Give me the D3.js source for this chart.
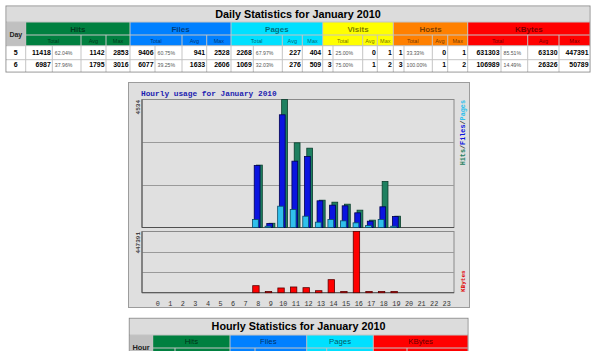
<!DOCTYPE html>
<html>
<head>
<meta charset="utf-8">
<script src="https://cdn.jsdelivr.net/npm/d3@7"></script>
<style>
  body { margin: 0; background: #fff; }
  svg { display: block; }
</style>
</head>
<body>
<svg id="page"></svg>
<script>
// ---- data ----
const monthLabel = "January 2010";

const dailyDays = ["5", "6"];
const statGroups = ["Hits", "Files", "Pages", "Visits", "Hosts", "KBytes"];
const subHeads = ["Total", "Avg", "Max"];
const dailyHits   = [[11418, "62.04%", 1142, 2853], [6987, "37.96%", 1795, 3016]];
const dailyFiles  = [[9406, "60.75%", 941, 2528], [6077, "39.25%", 1633, 2606]];
const dailyPages  = [[2268, "67.97%", 227, 404], [1069, "32.03%", 276, 509]];
const dailyVisits = [[1, "25.00%", 0, 1], [3, "75.00%", 1, 2]];
const dailyHosts  = [[1, "33.33%", 0, 1], [3, "100.00%", 1, 2]];
const dailyKBytes = [[631303, "85.51%", 63130, 447391], [106989, "14.49%", 26326, 50789]];

const hours = [0, 1, 2, 3, 4, 5, 6, 7, 8, 9, 10, 11, 12, 13, 14, 15, 16, 17, 18, 19, 20, 21, 22, 23];
const hitsByHour   = [0, 0, 0, 0, 0, 0, 0, 0, 2210, 150, 4534, 3000, 2810, 967, 897, 826, 614, 260, 1630, 400, 0, 0, 0, 0];
const filesByHour  = [0, 0, 0, 0, 0, 0, 0, 0, 2196, 142, 3992, 2350, 2515, 945, 791, 768, 520, 224, 733, 390, 0, 0, 0, 0];
const pagesByHour  = [0, 0, 0, 0, 0, 0, 0, 0, 283, 46, 755, 638, 400, 189, 283, 236, 165, 71, 283, 46, 0, 0, 0, 0];
const kbytesByHour = [0, 0, 0, 0, 0, 0, 0, 0, 51300, 5000, 34500, 41800, 36700, 14700, 95300, 8000, 447391, 3000, 5000, 3000, 0, 0, 0, 0];
const maxHits = 4534;
const maxKBytes = 447391;

const hourGroups = ["Hits", "Files", "Pages", "KBytes"];

// ---- layout ----
const W = 600, H = 351;
const groupColors = ["#008040", "#0080ff", "#00e0ff", "#ffff00", "#ff8000", "#ff0000"];
const sans = "'Liberation Sans', Arial, sans-serif";
const mono = "'Liberation Mono', 'DejaVu Sans Mono', monospace";

const svg = d3.select("#page")
  .attr("width", W)
  .attr("height", H)
  .attr("viewBox", `0 0 ${W} ${H}`);

function cells(g, list) {
  g.selectAll(null)
    .data(list)
    .join("rect")
      .attr("x", d => d.x0 + 0.5)
      .attr("y", d => d.y0 + 0.5)
      .attr("width", d => d.x1 - d.x0 - 1)
      .attr("height", d => d.y1 - d.y0 - 1)
      .attr("fill", d => d.fill);
}

function texts(g, list) {
  g.selectAll(null)
    .data(list)
    .join("text")
      .attr("x", d => d.x)
      .attr("y", d => d.y)
      .attr("text-anchor", d => d.anchor || "middle")
      .attr("font-family", sans)
      .attr("font-size", d => d.size)
      .attr("font-weight", d => d.bold ? "bold" : "normal")
      .attr("fill", d => d.color || "#000")
      .attr("fill-opacity", d => d.op || 1)
      .text(d => d.t);
}

// ---- daily table ----
const t1 = svg.append("g");
const colEdges = [
  [25.7, 52.3, 81, 106, 130],
  [130, 155, 182, 206.7, 231],
  [231, 253.3, 282.3, 302.3, 322.7],
  [322.7, 333, 362.7, 377.3, 393.3],
  [393.3, 404, 432.3, 447.7, 467.7],
  [467.7, 501, 527.7, 559, 590]
];
const rowY = [6, 22, 35, 45.7, 59.7, 72];
const dailyData = [dailyHits, dailyFiles, dailyPages, dailyVisits, dailyHosts, dailyKBytes];

t1.append("rect")
  .attr("x", 6).attr("y", 6).attr("width", 584).attr("height", 66)
  .attr("fill", "#c4c4c4").attr("stroke", "#8c8c8c");

let c1 = [
  {x0: 6, y0: rowY[0], x1: 590, y1: rowY[1], fill: "#dcdcdc"},
  {x0: 6, y0: rowY[1], x1: 25.7, y1: rowY[3], fill: "#c0c0c0"}
];
let tx1 = [
  {t: `Daily Statistics for ${monthLabel}`, x: 298, y: 18.3, size: 10.8, bold: true},
  {t: "Day", x: 15.8, y: 37, size: 7, bold: true, color: "#222"}
];
statGroups.forEach((name, gi) => {
  const e = colEdges[gi], col = groupColors[gi];
  c1.push({x0: e[0], y0: rowY[1], x1: e[4], y1: rowY[2], fill: col});
  c1.push({x0: e[0], y0: rowY[2], x1: e[2], y1: rowY[3], fill: col});
  c1.push({x0: e[2], y0: rowY[2], x1: e[3], y1: rowY[3], fill: col});
  c1.push({x0: e[3], y0: rowY[2], x1: e[4], y1: rowY[3], fill: col});
  tx1.push({t: name, x: (e[0] + e[4]) / 2, y: 31.8, size: 8, bold: true, op: 0.55});
  tx1.push({t: subHeads[0], x: (e[0] + e[2]) / 2, y: 43, size: 5.5, op: 0.6});
  tx1.push({t: subHeads[1], x: (e[2] + e[3]) / 2, y: 43, size: 5.5, op: 0.6});
  tx1.push({t: subHeads[2], x: (e[3] + e[4]) / 2, y: 43, size: 5.5, op: 0.6});
});
dailyDays.forEach((day, ri) => {
  const y0 = rowY[3 + ri], y1 = rowY[4 + ri], base = y1 - 4.6;
  c1.push({x0: 6, y0, x1: 25.7, y1, fill: "#ffffff"});
  tx1.push({t: day, x: 15.8, y: base, size: 7, bold: true});
  dailyData.forEach((grp, gi) => {
    const e = colEdges[gi], vals = grp[ri];
    for (let k = 0; k < 4; k++) c1.push({x0: e[k], y0, x1: e[k + 1], y1, fill: "#ffffff"});
    tx1.push({t: vals[0], x: e[1] - 1.5, y: base, size: 6.9, bold: true, anchor: "end"});
    tx1.push({t: vals[1], x: e[1] + 2.5, y: base - 0.6, size: 5.2, anchor: "start", color: "#555"});
    tx1.push({t: vals[2], x: e[3] - 1.5, y: base, size: 6.9, bold: true, anchor: "end"});
    tx1.push({t: vals[3], x: e[4] - 1.5, y: base, size: 6.9, bold: true, anchor: "end"});
  });
});
cells(t1, c1);
texts(t1, tx1);

// ---- hourly graph ----
const gr = svg.append("g");
gr.append("rect")
  .attr("x", 128.5).attr("y", 82.5).attr("width", 341).attr("height", 225)
  .attr("fill", "#dfdfdf").attr("stroke", "#9c9c9c");

const x = d3.scaleLinear().domain([0, 23]).range([157.7, 446.7]);
const yTop = d3.scaleLinear().domain([0, maxHits]).range([227.5, 99.5]);
const yBot = d3.scaleLinear().domain([0, maxKBytes]).range([292.7, 231.5]);

// panels
[[yTop, maxHits], [yBot, maxKBytes]].forEach(([ys, mx]) => {
  const top = ys(mx), bot = ys(0);
  gr.append("rect")
    .attr("x", 142).attr("y", top).attr("width", 312).attr("height", bot - top)
    .attr("fill", "#e0e0e0").attr("stroke", "#8a8a8a");
  gr.selectAll(null)
    .data([mx / 3, mx * 2 / 3])
    .join("line")
      .attr("x1", 142).attr("x2", 454)
      .attr("y1", d => Math.round(ys(d)) + 0.5).attr("y2", d => Math.round(ys(d)) + 0.5)
      .attr("stroke", "#9a9a9a");
  gr.append("path")
    .attr("d", `M142,${top}V${bot}H454`)
    .attr("fill", "none").attr("stroke", "#505050");
});

const seriesTop = [
  {vals: hitsByHour, dx: -1.7, fill: "#1e8060", stroke: "#0b3d2c"},
  {vals: filesByHour, dx: -4, fill: "#0a14e0", stroke: "#000050"},
  {vals: pagesByHour, dx: -5.7, fill: "#30c0ec", stroke: "#0a4a66"}
];
seriesTop.forEach(s => {
  gr.append("g").selectAll("rect")
    .data(hours.filter(h => s.vals[h] > 0))
    .join("rect")
      .attr("x", h => x(h) + s.dx)
      .attr("y", h => yTop(s.vals[h]))
      .attr("width", 5.8)
      .attr("height", h => yTop(0) - yTop(s.vals[h]))
      .attr("fill", s.fill)
      .attr("stroke", s.stroke)
      .attr("stroke-width", 0.8);
});

gr.append("g").selectAll("rect")
  .data(hours.filter(h => kbytesByHour[h] > 0))
  .join("rect")
    .attr("x", h => x(h) - 5.5)
    .attr("y", h => Math.min(yBot(kbytesByHour[h]), yBot(0) - 1.2))
    .attr("width", 6.4)
    .attr("height", h => Math.max(yBot(0) - yBot(kbytesByHour[h]), 1.2))
    .attr("fill", "#ff0000")
    .attr("stroke", "#5a0000")
    .attr("stroke-width", 0.8);

// hour labels
gr.append("g").selectAll("text")
  .data(hours)
  .join("text")
    .attr("x", h => x(h))
    .attr("y", 305.5)
    .attr("text-anchor", "middle")
    .attr("font-family", mono)
    .attr("font-size", 6.8)
    .attr("fill", "#333")
    .text(h => h);

gr.append("text")
  .attr("x", 141).attr("y", 95.5)
  .attr("font-family", mono).attr("font-size", 7.8).attr("font-weight", "bold")
  .attr("fill", "#1c1cb0")
  .text(`Hourly usage for ${monthLabel}`);

function vlabel(x0, y0, size, anchor, parts) {
  const t = gr.append("text")
    .attr("transform", `translate(${x0},${y0}) rotate(-90)`)
    .attr("text-anchor", anchor)
    .attr("font-family", mono)
    .attr("font-size", size)
    .attr("font-weight", "bold");
  parts.forEach(p => t.append("tspan").attr("fill", p[1]).text(p[0]));
}
vlabel(139.5, 100, 6, "end", [[String(maxHits), "#444"]]);
vlabel(139.5, 232, 6, "end", [[String(maxKBytes), "#444"]]);
vlabel(464.5, 100, 6.8, "end", [["Hits", "#1e8060"], ["/", "#333"], ["Files", "#0a14e0"], ["/", "#333"], ["Pages", "#30c0ec"]]);
vlabel(464.5, 292, 6, "start", [["KBytes", "#e00000"]]);

// ---- hourly table (top part, the rest is below the fold) ----
const t2 = svg.append("g");
const hEdges = [[152.7, 175, 230], [230, 255, 306.7], [306.7, 326.7, 373.3], [373.3, 407, 468]];
const hColors = [groupColors[0], groupColors[1], groupColors[2], groupColors[5]];
const rowY2 = [318.3, 335, 348, 360];

t2.append("rect")
  .attr("x", 129.3).attr("y", rowY2[0]).attr("width", 338.7).attr("height", 45)
  .attr("fill", "#c4c4c4").attr("stroke", "#8c8c8c");
let c2 = [
  {x0: 129.3, y0: rowY2[0], x1: 468, y1: rowY2[1], fill: "#dcdcdc"},
  {x0: 129.3, y0: rowY2[1], x1: 152.7, y1: rowY2[3], fill: "#c0c0c0"}
];
let tx2 = [
  {t: `Hourly Statistics for ${monthLabel}`, x: 298.6, y: 330, size: 10.8, bold: true},
  {t: "Hour", x: 141, y: 349.5, size: 7.4, bold: true, color: "#222"}
];
hourGroups.forEach((name, gi) => {
  const e = hEdges[gi];
  c2.push({x0: e[0], y0: rowY2[1], x1: e[2], y1: rowY2[2], fill: hColors[gi]});
  c2.push({x0: e[0], y0: rowY2[2], x1: e[1], y1: rowY2[3], fill: hColors[gi]});
  c2.push({x0: e[1], y0: rowY2[2], x1: e[2], y1: rowY2[3], fill: hColors[gi]});
  tx2.push({t: name, x: (e[0] + e[2]) / 2, y: 344, size: 7.8, op: 0.65});
});
cells(t2, c2);
texts(t2, tx2);
</script>
</body>
</html>
